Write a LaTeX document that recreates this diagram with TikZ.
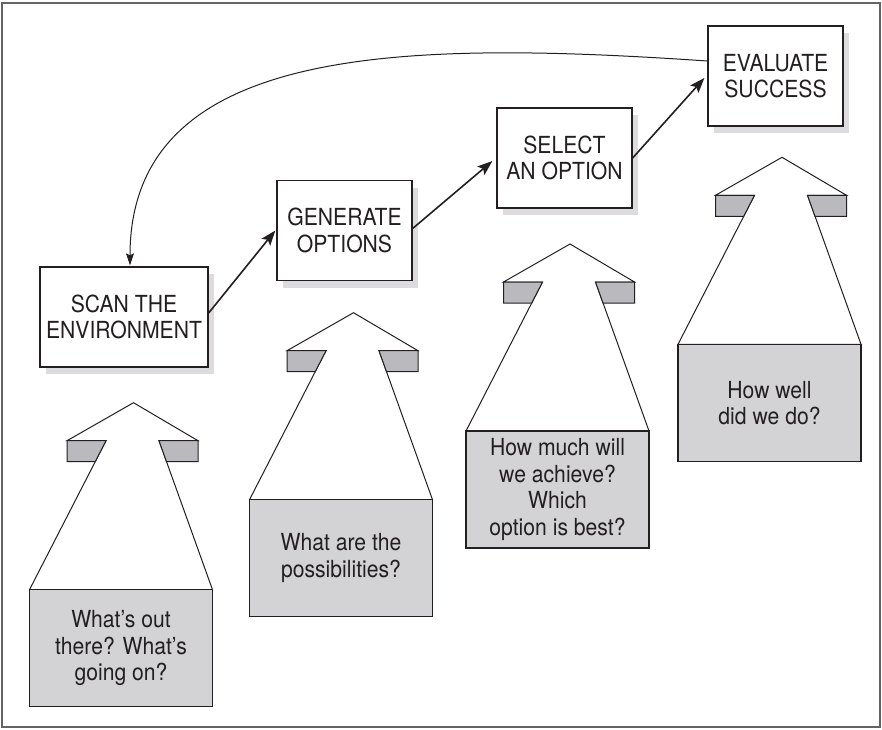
\documentclass[tikz,border=0pt]{standalone}
\usepackage{fontspec}
\setmainfont{TeX Gyre Heros}[FakeStretch=0.9]
\usetikzlibrary{arrows.meta,calc,shadows}
\definecolor{ink}{RGB}{35,31,32}
\definecolor{qgrey}{RGB}{211,211,213}
\definecolor{sgrey}{RGB}{186,186,190}
\definecolor{shadowgrey}{RGB}{220,220,222}
\definecolor{framegrey}{RGB}{100,100,100}
\newcommand{\qarrowshape}[2]{% cx, tip y
  \draw[shaftline] (#1+1,#2) -- (#1+65.5,#2+38) -- (#1+26.5,#2+38) -- (#1+80,#2+187)
     -- (#1-103,#2+187) -- (#1-26.5,#2+38) -- (#1-65.5,#2+38) -- cycle;
  \draw[shoulder] (#1-65.5,#2+38) -- (#1-26.5,#2+38) -- (#1-37.3,#2+59) -- (#1-65.5,#2+59) -- cycle;
  \draw[shoulder] (#1+65.5,#2+38) -- (#1+26.5,#2+38) -- (#1+34,#2+59) -- (#1+65.5,#2+59) -- cycle;
}
\tikzset{
  txt/.style={font=\fontsize{23.5}{26.5}\selectfont},
  stepbox/.style={draw=ink, line width=1.3pt, fill=white, text=ink, align=center, inner sep=0pt,
    minimum width=135pt, minimum height=100pt, txt,
    drop shadow={shadow xshift=6pt, shadow yshift=-7pt, fill=shadowgrey, opacity=1}},
  qbox/.style={draw=ink, line width=1.1pt, fill=qgrey, text=ink, align=center, inner sep=0pt,
    minimum width=183pt, minimum height=117pt, txt},
  shaftline/.style={draw=ink, line width=1pt, fill=white, line join=miter},
  shoulder/.style={draw=ink, line width=1pt, fill=sgrey},
  flow/.style={draw=ink, line width=1.6pt, -{Stealth[length=15pt,width=11pt,inset=3pt]}},
  loopback/.style={draw=ink, line width=1pt, -{Stealth[length=12pt,width=8pt,inset=2pt]}},
}
\begin{document}
\begin{tikzpicture}[x=1pt,y=-1pt]
\useasboundingbox (0,0) rectangle (882,729);
\draw[framegrey, line width=1.5pt] (2,3) rectangle (880,727);

% up arrows
\qarrowshape{132.5}{402.7}
\qarrowshape{352.5}{312.7}
\qarrowshape{569}{244}
\qarrowshape{781}{157.3}

% question boxes
\node[qbox] (q1) at (121,648.2) {What's out\\there? What's\\going on?};
\node[qbox] (q2) at (341,558.2) {What are the\\possibilities?};
\node[qbox] (q3) at (557.5,489.5) {How much will\\we achieve?\\Which\\option is best?};
\node[qbox] (q4) at (769.5,403) {How well\\did we do?};

% step boxes
\node[stepbox, minimum width=168pt] (scan) at (124,317) {SCAN THE\\ENVIRONMENT};
\node[stepbox] (gen) at (344.5,230.5) {GENERATE\\OPTIONS};
\node[stepbox] (sel) at (564.5,158) {SELECT\\AN OPTION};
\node[stepbox] (eval) at (775.5,76) {EVALUATE\\SUCCESS};

% connectors
\draw[flow] ($(scan.east)+(0,-4)$) -- ($(gen.west)+(-1,0)$);
\draw[flow] ($(gen.east)+(0,-2)$) -- ($(sel.west)+(-4,3)$);
\draw[flow] (sel.east) -- ($(eval.west)+(-3,2)$);
\draw[loopback] ($(eval.west)+(0,-15)$) .. controls (400,40) and (130,45) .. ($(scan.north)+(6,-1)$);
\end{tikzpicture}
\end{document}
